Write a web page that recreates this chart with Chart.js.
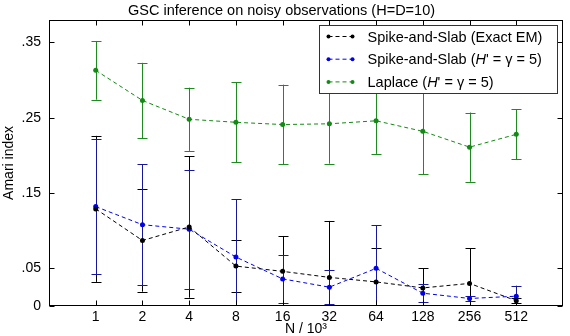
<!DOCTYPE html>
<html lang="en">
<head>
  <meta charset="UTF-8">
  <title>GSC inference on noisy observations</title>
  <script src="https://cdn.jsdelivr.net/npm/chart.js"></script>
  <style>
    html, body { margin: 0; padding: 0; background: #fff; }
    #wrap { width: 570px; height: 336px; }
  </style>
</head>
<body>
  <div id="wrap"><canvas id="chart" width="570" height="336"></canvas></div>

  <script>
    // data (N in thousands)
    const sizes = [1, 2, 4, 8, 16, 32, 64, 128, 256, 512];
    const yTicks = [0, 0.05, 0.15, 0.25, 0.35];

    const exactMean = [0.129, 0.087, 0.105, 0.053, 0.046, 0.038, 0.032, 0.024, 0.030, 0.007];
    const exactStd  = [0.097, 0.068, 0.094, 0.034, 0.047, 0.075, 0.045, 0.026, 0.047, 0.003];

    const slabMean = [0.132, 0.108, 0.102, 0.065, 0.036, 0.025, 0.050, 0.017, 0.010, 0.013];
    const slabStd  = [0.090, 0.080, 0.079, 0.077, 0.032, 0.023, 0.057, 0.012, 0.003, 0.014];

    const lapMean = [0.313, 0.273, 0.248, 0.244, 0.241, 0.242, 0.246, 0.232, 0.211, 0.228];
    const lapStd  = [0.039, 0.050, 0.042, 0.053, 0.053, 0.053, 0.044, 0.057, 0.046, 0.033];

    const FONT = "'Liberation Sans', Arial, sans-serif";

    function series(label, mean, std, color, barColor, legendParts) {
      return {
        label: label,
        data: sizes.map((n, i) => ({ x: Math.log2(n), y: mean[i] })),
        err: std,
        barColor: barColor,
        legendParts: legendParts,
        borderColor: color,
        backgroundColor: color,
        borderWidth: 1,
        borderDash: [4, 3],
        pointRadius: 2.5,
        pointBorderWidth: 0,
        tension: 0
      };
    }

    // vertical error bars with caps, from the dataset's std array
    const errorBars = {
      id: 'errorBars',
      beforeDatasetsDraw(chart) {
        const ctx = chart.ctx;
        const ya = chart.scales.y;
        const area = chart.chartArea;
        ctx.save();
        ctx.beginPath();
        ctx.rect(area.left, area.top, area.right - area.left, area.bottom - area.top);
        ctx.clip();
        chart.data.datasets.forEach((ds, di) => {
          const meta = chart.getDatasetMeta(di);
          ctx.strokeStyle = ds.barColor;
          ctx.lineWidth = 1;
          meta.data.forEach((pt, i) => {
            const v = ds.data[i].y;
            const x = Math.round(pt.x) + 0.5;
            const top = ya.getPixelForValue(v + ds.err[i]);
            const bot = ya.getPixelForValue(v - ds.err[i]);
            ctx.beginPath();
            ctx.moveTo(x, top); ctx.lineTo(x, bot);
            ctx.moveTo(x - 5, Math.round(top) + 0.5); ctx.lineTo(x + 5, Math.round(top) + 0.5);
            ctx.moveTo(x - 5, Math.round(bot) + 0.5); ctx.lineTo(x + 5, Math.round(bot) + 0.5);
            ctx.stroke();
          });
        });
        ctx.restore();
      }
    };

    // box around the axes, inward tick marks, and the legend
    const frame = {
      id: 'frame',
      afterDraw(chart) {
        const ctx = chart.ctx;
        const a = chart.chartArea;
        const L = Math.round(a.left) + 0.5, R = Math.round(a.right) - 0.5;
        const T = Math.round(a.top) + 0.5, B = Math.round(a.bottom) - 0.5;
        ctx.save();
        ctx.strokeStyle = '#000';
        ctx.lineWidth = 1;
        ctx.strokeRect(L, T, R - L, B - T);
        ctx.beginPath();
        yTicks.forEach(v => {
          const y = Math.round(chart.scales.y.getPixelForValue(v)) + 0.5;
          ctx.moveTo(L, y); ctx.lineTo(L + 5, y);
          ctx.moveTo(R, y); ctx.lineTo(R - 5, y);
        });
        sizes.forEach(n => {
          const x = Math.round(chart.scales.x.getPixelForValue(Math.log2(n))) + 0.5;
          ctx.moveTo(x, B); ctx.lineTo(x, B - 5);
          ctx.moveTo(x, T); ctx.lineTo(x, T + 5);
        });
        ctx.stroke();

        // legend
        const bx = Math.round(a.right) - 244 + 0.5, by = T + 5;
        const bw = 238, bh = 68;
        ctx.fillStyle = '#fff';
        ctx.fillRect(bx, by, bw, bh);
        ctx.strokeStyle = '#333';
        ctx.strokeRect(bx, by, bw, bh);
        chart.data.datasets.forEach((ds, i) => {
          const y = by + 11 + i * 22.7;
          ctx.strokeStyle = ds.borderColor;
          ctx.fillStyle = ds.borderColor;
          ctx.setLineDash([4, 3]);
          ctx.beginPath();
          ctx.moveTo(bx + 9, y); ctx.lineTo(bx + 33, y);
          ctx.stroke();
          ctx.setLineDash([]);
          [bx + 9, bx + 33].forEach(px => {
            ctx.beginPath(); ctx.arc(px, y, 2, 0, Math.PI * 2); ctx.fill();
          });
          ctx.fillStyle = '#000';
          ctx.textBaseline = 'middle';
          let tx = bx + 48;
          ds.legendParts.forEach(part => {
            ctx.font = (part.italic ? 'italic ' : '') + '14.5px ' + FONT;
            ctx.fillText(part.t, tx, y + 1);
            tx += ctx.measureText(part.t).width;
          });
        });
        ctx.restore();
      }
    };

    new Chart(document.getElementById('chart'), {
      type: 'line',
      data: {
        datasets: [
          series('Spike-and-Slab (Exact EM)', exactMean, exactStd, '#000000', '#000000',
            [{ t: 'Spike-and-Slab (Exact EM)' }]),
          series("Spike-and-Slab (H' = γ = 5)", slabMean, slabStd, '#0000ee', '#16169e',
            [{ t: 'Spike-and-Slab (' }, { t: 'H', italic: true }, { t: "' = γ = 5)" }]),
          series("Laplace (H' = γ = 5)", lapMean, lapStd, '#138a13', '#1f8a1f',
            [{ t: 'Laplace (' }, { t: 'H', italic: true }, { t: "' = γ = 5)" }])
        ]
      },
      options: {
        responsive: false,
        animation: false,
        layout: { padding: { right: 7, top: 0, left: 0, bottom: 0 } },
        plugins: {
          legend: { display: false },
          tooltip: { enabled: false },
          title: {
            display: true,
            text: 'GSC inference on noisy observations (H=D=10)',
            color: '#000',
            font: { family: FONT, size: 14.5, weight: 'normal', lineHeight: 1.2 },
            padding: { top: 2, bottom: 0.5 }
          }
        },
        scales: {
          x: {
            type: 'linear',
            min: -1,
            max: 10,
            afterFit: s => { s.height = 30; },
            afterBuildTicks: s => { s.ticks = sizes.map(n => ({ value: Math.log2(n) })); },
            ticks: {
              color: '#000',
              font: { family: FONT, size: 14 },
              padding: 3,
              maxRotation: 0,
              autoSkip: false,
              callback: v => String(Math.pow(2, v))
            },
            grid: { display: false, drawTicks: false },
            border: { display: false },
            title: {
              display: true,
              text: 'N / 10³',
              color: '#000',
              font: { family: FONT, size: 14, lineHeight: 1 },
              padding: { top: 0, bottom: 0 }
            }
          },
          y: {
            min: 0,
            max: 0.38,
            afterFit: s => { s.width = 49; },
            afterBuildTicks: s => { s.ticks = yTicks.map(v => ({ value: v })); },
            ticks: {
              color: '#000',
              font: { family: FONT, size: 14 },
              padding: 8,
              callback: v => v === 0 ? '0' : '.' + String(Math.round(v * 100)).padStart(2, '0')
            },
            grid: { display: false, drawTicks: false },
            border: { display: false },
            title: {
              display: true,
              text: 'Amari index',
              color: '#000',
              font: { family: FONT, size: 14 },
              padding: { top: 1, bottom: 0 }
            }
          }
        }
      },
      plugins: [errorBars, frame]
    });
  </script>
</body>
</html>
